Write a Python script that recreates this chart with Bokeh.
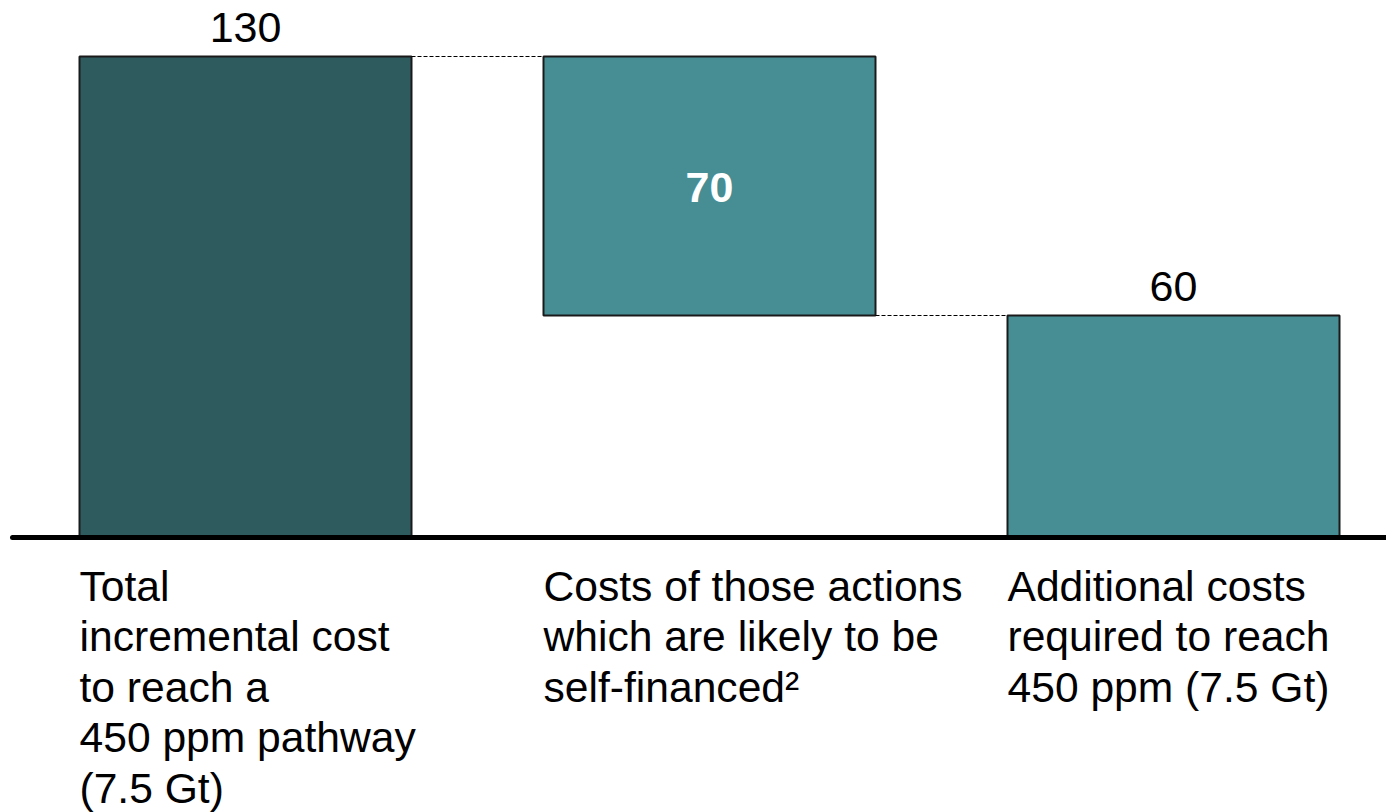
from bokeh.plotting import figure
from bokeh.models import Range1d, ColumnDataSource
from bokeh.core.properties import value
from bokeh.embed import file_html
from bokeh.resources import INLINE

# ---- data ----
categories = [
    "Total\nincremental cost\nto reach a\n450 ppm pathway\n(7.5 Gt)",
    "Costs of those actions\nwhich are likely to be\nself-financed\u00b2",
    "Additional costs\nrequired to reach\n450 ppm (7.5 Gt)",
]
bar_bottom = [0, 60, 0]
bar_top = [130, 130, 60]
value_labels = ["130", "70", "60"]
bar_colors = ["#2E5B5E", "#468E94", "#468E94"]

FONT = value("Liberation Sans")
BAR_W = 332 / 464

xs = list(range(len(categories)))
left_edges = [x - BAR_W / 2 for x in xs]
right_edges = [x + BAR_W / 2 for x in xs]

W, H = 1386, 812
p = figure(width=W, height=H, output_backend="svg", toolbar_location=None,
           x_range=Range1d((0 - 245) / 464, (W - 245) / 464),
           y_range=Range1d((537 - H) / 3.7, 537 / 3.7),
           min_border=0)
p.axis.visible = False
p.grid.visible = False
p.outline_line_color = None
p.background_fill_color = "white"

src = ColumnDataSource(dict(x=xs, bottom=bar_bottom, top=bar_top, color=bar_colors,
                            left=left_edges, label=categories))
p.vbar(x="x", bottom="bottom", top="top", width=BAR_W, fill_color="color",
       line_color="#1a1a1a", line_width=2, source=src)

# dashed connectors
conn_levels = [bar_top[0], bar_bottom[1]]
for i in range(len(xs) - 1):
    lvl = conn_levels[i]
    p.line([right_edges[i], left_edges[i + 1]], [lvl, lvl],
           line_color="black", line_width=1, line_dash="4 2")

# baseline
p.line([left_edges[0] - 67 / 464, p.x_range.end + 0.05], [0, 0],
       line_color="black", line_width=5, line_cap="round")

# value labels
p.text(x=[xs[0], xs[2]], y=[bar_top[0], bar_top[2]], text=[value_labels[0], value_labels[2]],
       text_font=FONT, text_font_size="43px", text_align="center",
       text_baseline="bottom", y_offset=-15, text_color="black")
p.text(x=[xs[1]], y=[(bar_top[1] + bar_bottom[1]) / 2], text=[value_labels[1]],
       text_font=FONT, text_font_size="43px", text_font_style="bold",
       text_align="center", text_baseline="middle", y_offset=1, text_color="white")

# category labels
p.text(x="left", y=0, text="label", source=src, text_font=FONT,
       text_font_size="42.6px", text_align="left", text_baseline="top",
       y_offset=24, text_line_height=1.055, text_color="black")

open("out.html", "w").write(file_html(p, INLINE))
